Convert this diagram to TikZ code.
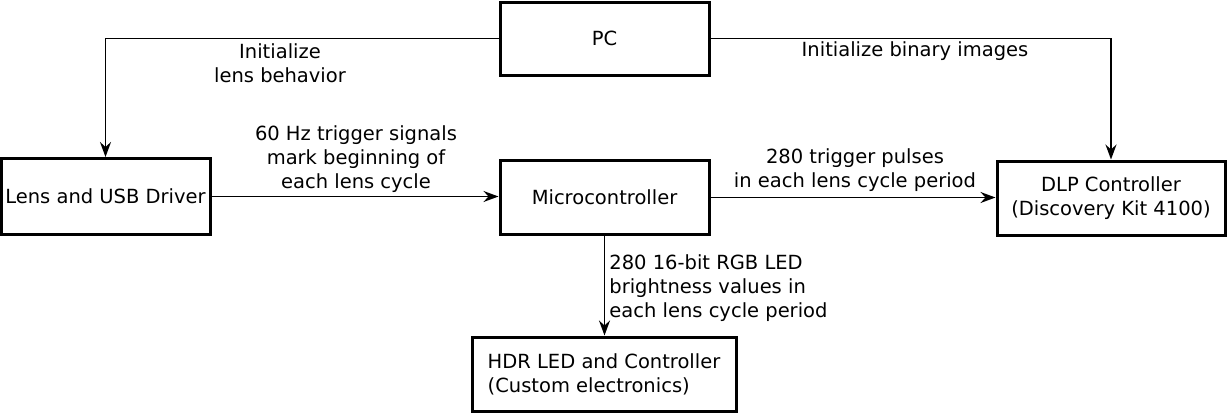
\documentclass[tikz,border=0pt]{standalone}
\usepackage{fontspec}
\setmainfont{DejaVu Sans}
\usepackage{tikz}
\usetikzlibrary{positioning, arrows.meta}

\begin{document}
\begin{tikzpicture}[x=0.5pt, y=-0.5pt,
    block/.style={draw, line width=1.5pt, inner sep=0pt, align=center},
    arr/.style={line width=0.9pt, -{Stealth[length=7.5pt, width=5.5pt, inset=2.5pt]}},
    lbl/.style={inner sep=0pt, align=center}]
    \fontsize{9.75}{12}\selectfont
    \useasboundingbox (0,0) rectangle (1227,413);

    % Boxes
    \node[block, minimum width=104.5pt, minimum height=36.5pt] (pc) at (604.5,38.5) {PC};
    \node[block, minimum width=104.5pt, minimum height=38pt] (lens) at (105.5,196.5) {Lens and USB Driver};
    \node[block, minimum width=104.5pt, minimum height=37pt] (mcu) at (604.5,197.5) {Microcontroller};
    \node[block, minimum width=114pt, minimum height=37pt] (dlp) at (1111,198) {DLP Controller\\(Discovery Kit 4100)};
    \node[block, minimum width=132pt, minimum height=37pt, align=left] (hdr) at (604,374) {HDR LED and Controller\\(Custom electronics)};

    % Connections
    \draw[arr] (pc.west) -| (lens.north);
    \draw[arr] (pc.east) -| (dlp.north);
    \draw[arr] (lens.east) -- (lens.east -| mcu.west);
    \draw[arr] (mcu.east) -- (mcu.east -| dlp.west);
    \draw[arr] (mcu.south) -- (mcu.south |- hdr.north);

    % Labels
    \node[lbl] (initlens) at (280,63) {Initialize\\lens behavior};
    \node[lbl] (initimg) at (915,51) {Initialize binary images};
    \node[lbl] (trigsig) at (356,159) {60 Hz trigger signals\\mark beginning of\\each lens cycle};
    \node[lbl] (trigpulse) at (855,170) {280 trigger pulses\\in each lens cycle period};
    \node[lbl, anchor=west, align=left] (ledvals) at (609,288) {280 16-bit RGB LED\\brightness values in\\each lens cycle period};
\end{tikzpicture}
\end{document}
